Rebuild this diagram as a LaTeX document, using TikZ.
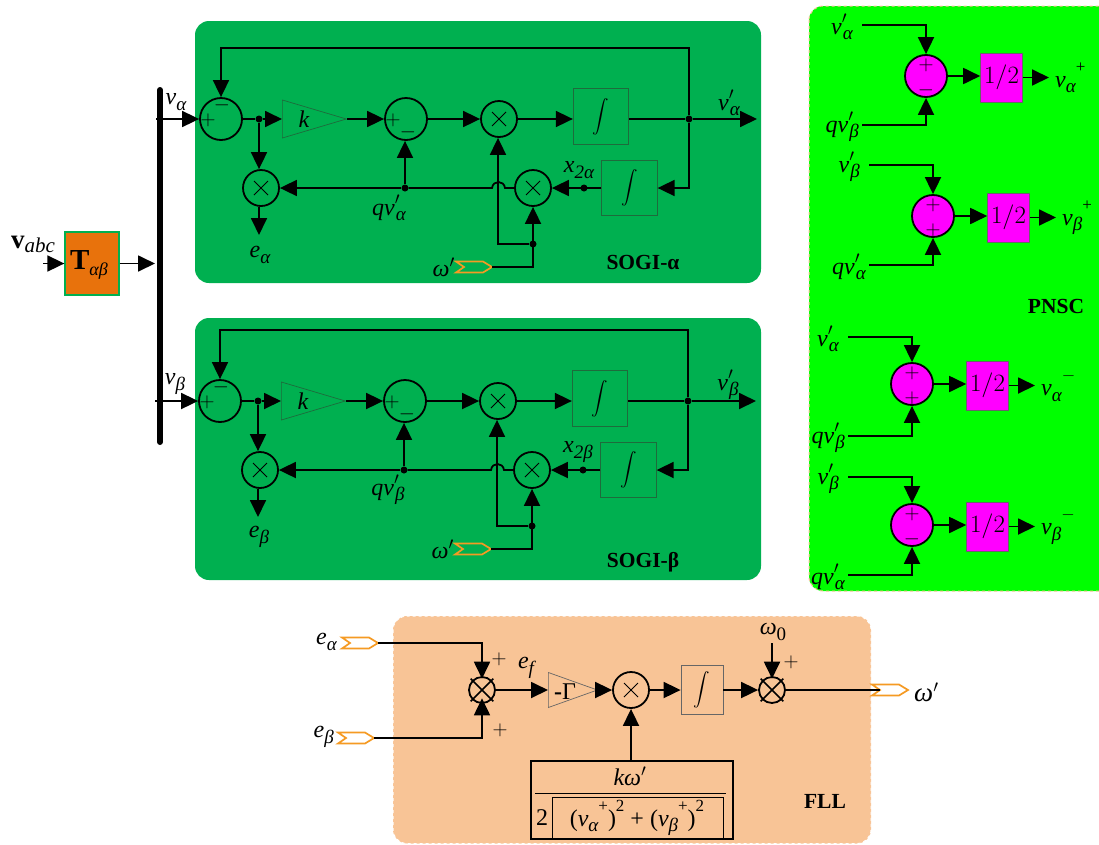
\documentclass[tikz,border=0pt]{standalone}
\usepackage[no-math]{fontspec}
\usepackage{graphicx}
\setmainfont{Liberation Serif}
\usetikzlibrary{arrows.meta,shapes.geometric,shapes.misc}
\definecolor{sogi}{HTML}{00B050}
\definecolor{pnsc}{HTML}{00FF00}
\definecolor{fll}{HTML}{F8C496}
\definecolor{tagc}{HTML}{F59A23}
\definecolor{torg}{HTML}{E8720C}
\definecolor{mag}{HTML}{FF00FF}
\definecolor{dgr}{HTML}{1E6B3C}
\newcommand\fs[1]{\fontsize{#1}{#1}\selectfont}
\newcommand\sbt[1]{\raisebox{-.5ex}{\fs{19}\itshape #1}}
\newcommand\spt[1]{\raisebox{1.35ex}{\fs{17}#1}}
\newcommand\pr{\rlap{\raisebox{.1ex}{$'$}}\kern1pt}
\newcommand\intg{\scalebox{1.65}{$\displaystyle\int$}}
\tikzset{
  ln/.style={line width=1.8pt,draw=black},
  arr/.style={ln,-{Triangle[length=17pt,width=16pt]}},
  sumc/.style={circle,draw,line width=1.8pt,minimum size=42pt,inner sep=0pt},
  multc/.style={circle,draw,line width=1.8pt,minimum size=36pt,inner sep=0pt,
    path picture={\draw[line width=.8pt] (path picture bounding box.center)+(-7pt,-7pt) -- +(7pt,7pt)
      (path picture bounding box.center)+(-7pt,7pt) -- +(7pt,-7pt);}},
  otc/.style={circle,draw,line width=1.8pt,minimum size=26pt,inner sep=0pt},
  otx/.style={cross out,draw,line width=1.6pt,minimum size=21pt,inner sep=0pt},
  dotn/.style={circle,fill=black,minimum size=7pt,inner sep=0pt},
  intb/.style={rectangle,draw=dgr,line width=.8pt,inner sep=0pt,minimum width=55.5pt,minimum height=55.5pt,font=\fs{15}},
  gain/.style={isosceles triangle,isosceles triangle stretches,draw=dgr,line width=.7pt,inner sep=0pt,anchor=lower side},
  txt/.style={inner sep=0pt,font=\fs{24}},
  sgn/.style={inner sep=0pt,font=\fs{22}},
  ttl/.style={inner sep=0pt,font=\fs{21.5}\bfseries},
  half/.style={rectangle,draw=black!60,line width=.6pt,fill=mag,minimum width=42pt,minimum height=49pt,inner sep=0pt,font=\fs{28}},
  pan/.style={rounded corners=14pt},
}
\newcommand\tagshape[3]{%
  \draw[draw=tagc,line width=1.7pt] (#2,#3-5.5) -- ++(27,0) -- ++(9,5.5) -- ++(-9,5.5) -- ++(-27,0) -- ++(8,-5.5) -- cycle;
  \coordinate (#1) at (#2+36,#3);
  \coordinate (#1in) at (#2+8,#3);
}
\newcommand\sogi[4]{%
\begin{scope}[shift={(#2,#3)}]
  \node[sumc] (#1sa) at (221,119) {};
  \node[sgn] (#1sap) at (208,120) {$+$};
  \node[sgn] (#1sam) at (222,105) {$-$};
  \node[sumc] (#1sb) at (406,119) {};
  \node[sgn] (#1sbp) at (393,120) {$+$};
  \node[sgn] (#1sbm) at (408,132) {$-$};
  \node[gain,minimum height=64pt,minimum width=38pt] (#1k) at (282,119) {};
  \node[txt] (#1kt) at (304,119) {\textit{k}};
  \node[multc] (#1m1) at (499,119) {};
  \node[multc] (#1m2) at (261,188) {};
  \node[multc] (#1m3) at (533,188) {};
  \node[intb] (#1i1) at (601,116.5) {\intg};
  \node[intb] (#1i2) at (629.5,188) {\intg};
  \node[dotn] (#1d1) at (259,119) {};
  \node[dotn] (#1d2) at (689,119) {};
  \node[dotn] (#1d3) at (405,188) {};
  \node[dotn] (#1d4) at (584,188) {};
  \node[dotn] (#1d5) at (533,244) {};
  \coordinate (#1in) at (156,119);
  \coordinate (#1top) at (689,48);
  \coordinate (#1out) at (757,119);
  \coordinate (#1turn) at (689,188);
  \coordinate (#1e) at (259,235);
  \coordinate (#1j1) at (505,188);
  \coordinate (#1j2) at (492,188);
  \coordinate (#1c1) at (504,180);
  \coordinate (#1c2) at (493,180);
  \coordinate (#1lf) at (498,244);
  \tagshape{#1tg}{456}{267}
  \coordinate (#1tc) at (533,267);
  \draw[arr] (#1in) -- (#1sa.west);
  \draw[ln] (#1sa.east) -- (#1d1);
  \draw[arr] (#1d1) -- (#1k.lower side);
  \draw[arr] (#1k.apex) -- (#1sb.west);
  \draw[arr] (#1sb.east) -- (#1m1.west);
  \draw[arr] (#1m1.east) -- (#1m1.east -| #1i1.west);
  \draw[ln] (#1d2 -| #1i1.east) -- (#1d2);
  \draw[arr] (#1d2) -- (#1out);
  \draw[arr] (#1d2) -- (#1top) -| (#1sa.north);
  \draw[arr] (#1d2) -- (#1turn) -- (#1i2.east);
  \draw[arr] (#1i2.west) -- (#1m3.east);
  \draw[ln] (#1m3.west) -- (#1j1) .. controls (#1c1) and (#1c2) .. (#1j2) -- (#1d3);
  \draw[arr] (#1d3) -- (#1m2.east);
  \draw[arr] (#1d3) -- (#1d3 |- #1sb.south);
  \draw[arr] (#1d1) -- (#1d1 |- #1m2.north);
  \draw[arr] (#1m2.south -| #1e) -- (#1e);
  \draw[arr] (#1tg) -- (#1tc) -- (#1m3.south);
  \draw[arr] (#1d5) -- (#1lf) -- (#1lf |- #1m1.south);
  \node[txt] (#1lin) at (176,102) {\textit{v}\sbt{#4}};
  \node[txt] (#1lout) at (729,103) {\textit{v}\pr\sbt{#4}};
  \node[txt] (#1lx) at (579,170) {\textit{x}\sbt{2#4}};
  \node[txt] (#1lq) at (389,208) {\textit{qv}\pr\sbt{#4}};
  \node[txt] (#1le) at (260,255) {\textit{e}\sbt{#4}};
  \node[txt,anchor=east] (#1lw) at (455,267) {\textit{ω}$'$};
\end{scope}}
\newcommand\pnscb[9]{%
\begin{scope}[shift={(#2,#3)}]
  \node[sumc,fill=mag] (#1c) at (0,0) {};
  \node[sgn] (#1p) at (0,-11) {$+$};
  \node[sgn] (#1q) at (0,14) {#9};
  \node[half] (#1h) at (75.5,1.5) {$1/2$};
  \coordinate (#1t) at (-64,#4);
  \coordinate (#1tb) at (0,#4);
  \coordinate (#1b) at (-64,#5);
  \coordinate (#1bb) at (0,#5);
  \coordinate (#1o) at (123,1.5);
  \draw[arr] (#1t) -- (#1tb) -- (#1c.north);
  \draw[arr] (#1b) -- (#1bb) -- (#1c.south);
  \draw[arr] (#1c.east) -- (#1c.east -| #1h.west);
  \draw[arr] (#1h.east) -- (#1o);
  \node[txt,anchor=east] (#1lt) at (-73,#4+2) {#6};
  \node[txt,anchor=east] (#1lb) at (-67,#5+2) {#7};
  \node[txt,anchor=west] (#1lo) at (129,2) {#8};
\end{scope}}
\begin{document}
\begin{tikzpicture}[x=1pt,y=-1pt]
\useasboundingbox (0,0) rectangle (1099,844);
\begin{scope}
\clip (0,0) rectangle (1099,844);
\fill[sogi,pan] (195,21) rectangle (761,283);
\fill[sogi,pan] (195,318) rectangle (761,580);
\draw[pan,fill=pnsc,draw=fll,dashed,line width=1pt] (809,6) rectangle (1120,591);
\draw[pan,fill=fll,draw=white,dashed,line width=1pt] (393,616) rectangle (871,843.5);
\end{scope}

% input
\node[rectangle,draw=sogi,fill=torg,line width=1.3pt,minimum width=54pt,minimum height=63pt,inner sep=0pt] (T) at (92,263.5) {};
\node[inner sep=0pt] (Tl) at (89,265) {\fs{29}\textbf{T}\raisebox{-.4ex}{\fs{18}\itshape αβ}};
\coordinate (vin) at (43,263.5);
\coordinate (busin) at (155,263.5);
\coordinate (bustop) at (160,90);
\coordinate (busbot) at (160,442);
\draw[line width=6pt,line cap=round] (bustop) -- (busbot);
\draw[arr] (vin) -- (T.west);
\draw[arr] (T.east) -- (busin);
\node[inner sep=0pt,anchor=base west] (vabc) at (11,248) {\fs{27}\textbf{v}\raisebox{-.4ex}{\fs{21}\itshape abc}};

\sogi{a}{0}{0}{α}
\sogi{b}{-1}{282}{β}
\node[ttl] (ta) at (643,262) {SOGI-α};
\node[ttl] (tb) at (643,562) {SOGI-β};

% PNSC
\pnscb{p}{926}{76}{-51}{49}{\textit{v}\pr\sbt{α}}{\textit{qv}\pr\sbt{β}}{\textit{v}\sbt{α}\spt{+}}{$-$}
\pnscb{r}{933}{216}{-51}{49}{\textit{v}\pr\sbt{β}}{\textit{qv}\pr\sbt{α}}{\textit{v}\sbt{β}\spt{+}}{$+$}
\pnscb{s}{912}{384}{-47}{52}{\textit{v}\pr\sbt{α}}{\textit{qv}\pr\sbt{β}}{\textit{v}\sbt{α}\spt{$-$}}{$+$}
\pnscb{u}{912}{525}{-48}{50}{\textit{v}\pr\sbt{β}}{\textit{qv}\pr\sbt{α}}{\textit{v}\sbt{β}\spt{$-$}}{$-$}
\node[ttl] (tp) at (1056,306) {PNSC};

% FLL
\node[otc] (fs) at (482,690) {};
\node[otx] (fsx) at (482,690) {};
\node[otc] (fo) at (772,690) {};
\node[otx] (fox) at (772,690) {};
\node[gain,draw=black!60,minimum height=49pt,minimum width=35pt] (fg) at (548,690) {};
\node[inner sep=0pt,font=\fs{24}] (fgt) at (565,692) {\textbf{-}Γ};
\node[multc] (fm) at (631,690) {};
\node[intb,draw=black!60,minimum width=42pt,minimum height=49pt] (fi) at (702,690) {\intg};
\node[rectangle,draw,line width=1.8pt,minimum width=202pt,minimum height=78pt,inner sep=0pt] (fd) at (632,800) {};
\tagshape{fta}{342}{643}
\tagshape{ftb}{338}{738}
\tagshape{ftw}{872}{690}
\coordinate (fac) at (482,643);
\coordinate (fbc) at (482,738);
\coordinate (fw0) at (772,643);
\coordinate (fdt) at (631,761);
\draw[arr] (fta) -- (fac) -- (fsx.north);
\draw[arr] (ftb) -- (fbc) -- ([yshift=3pt]fsx.south);
\draw[arr] (fs.east) -- (fg.lower side);
\draw[arr] (fg.apex) -- (fm.west);
\draw[arr] (fm.east) -- (fi.west);
\draw[arr] (fi.east) -- (fo.west);
\draw[ln] (fo.east) -- (ftwin);
\draw[arr] (fw0) -- (fox.north);
\draw[arr] (fdt) -- (fm.south);
\node[txt,anchor=east] (fla) at (337,642) {\textit{e}\sbt{α}};
\node[txt,anchor=east] (flb) at (334,737) {\textit{e}\sbt{β}};
\node[sgn] (fp1) at (499,659) {$+$};
\node[sgn] (fp2) at (500,730) {$+$};
\node[sgn] (fp3) at (791,662) {$+$};
\node[txt] (fle) at (526,668) {\textit{e}\sbt{f}};
\node[txt] (flw0) at (773,632) {\textit{ω}\sbt{\upshape 0}};
\node[txt,anchor=west] (flw) at (914,692) {\fs{27}\textit{ω}$'$};
\node[ttl] (tf) at (825,801) {FLL};
\node[txt] (fnum) at (630,776) {\textit{kω}$'$};
\coordinate (fb1) at (535,793);
\coordinate (fb2) at (726,793);
\draw[line width=1pt] (fb1) -- (fb2);
\node[txt] (f2) at (542,818) {2};
\coordinate (fr1) at (552,839);
\coordinate (fr2) at (552,797);
\coordinate (fr3) at (723,797);
\coordinate (fr4) at (723,839);
\draw[line width=1pt] (fr1) -- (fr2) -- (fr3) -- (fr4);
\node[txt] (fden) at (637,818) {(\textit{v}\sbt{α}\spt{+})\spt{2} + (\textit{v}\sbt{β}\spt{+})\spt{2}};
\end{tikzpicture}
\end{document}
